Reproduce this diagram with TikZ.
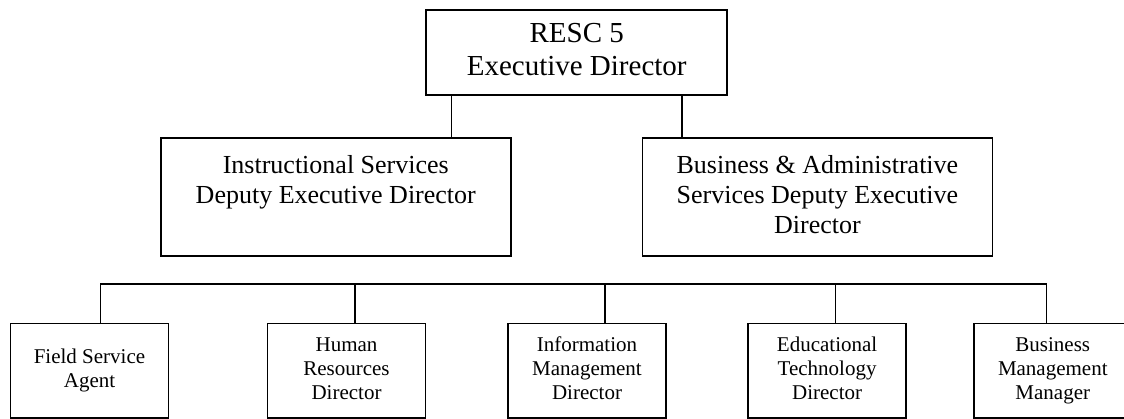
\documentclass[tikz,border=0pt]{standalone}
\usepackage{fontspec}
\setmainfont{Liberation Serif}
\newcommand\mylinestrut{\vphantom{bdg}}
\tikzset{
  box/.style={draw=black, line width=1.6pt, inner sep=0pt, anchor=north west, align=center},
  topbox/.style={box, minimum width=301pt, minimum height=85pt, font=\fontsize{29}{33.4}\selectfont},
  midbox/.style={box, minimum width=350pt, minimum height=118pt, font=\fontsize{26}{30}\selectfont},
  lowbox/.style={box, minimum width=158pt, minimum height=94.3pt, font=\fontsize{21}{24}\selectfont},
  link/.style={draw=black, line width=1.6pt}
}
\begin{document}
\begin{tikzpicture}[x=1pt, y=-1pt]
\clip (0,0) rectangle (1124,418);
\fill[white] (0,0) rectangle (1124,418);
% boxes
\node[topbox] (top) at (425.4,9) {\mylinestrut RESC 5\\Executive Director\mylinestrut};
\node[midbox] (midL) at (160,137) {\mylinestrut Instructional Services\\Deputy Executive Director\\\mylinestrut};
\node[midbox] (midR) at (641.6,137) {\mylinestrut Business \& Administrative\\Services Deputy Executive\\Director\mylinestrut};
\node[lowbox] (b1) at (9.7,322.7) {\mylinestrut Field Service\\Agent\mylinestrut};
\node[lowbox] (b2) at (266.7,322.7) {\mylinestrut Human\\Resources\\Director\mylinestrut};
\node[lowbox] (b3) at (507.2,322.7) {\mylinestrut Information\\Management\\Director\mylinestrut};
\node[lowbox] (b4) at (747.3,322.7) {\mylinestrut Educational\\Technology\\Director\mylinestrut};
\node[lowbox] (b5) at (973,322.7) {\mylinestrut Business\\Management\\Manager\mylinestrut};
% connector guide coordinates
\coordinate (k1) at (451.6,0);
\coordinate (k2) at (681.7,0);
\coordinate (d1) at (100.4,284);
\coordinate (d2) at (355.2,284);
\coordinate (d3) at (605,284);
\coordinate (d4) at (835.5,284);
\coordinate (d5) at (1046.6,284);
% connectors
\draw[link] (top.south -| k1) -- (midL.north -| k1);
\draw[link] (top.south -| k2) -- (midR.north -| k2);
\draw[link] (d1) -- (d5);
\draw[link] (d1) -- (b1.north -| d1);
\draw[link] (d2) -- (b2.north -| d2);
\draw[link] (d3) -- (b3.north -| d3);
\draw[link] (d4) -- (b4.north -| d4);
\draw[link] (d5) -- (b5.north -| d5);
\end{tikzpicture}
\end{document}
